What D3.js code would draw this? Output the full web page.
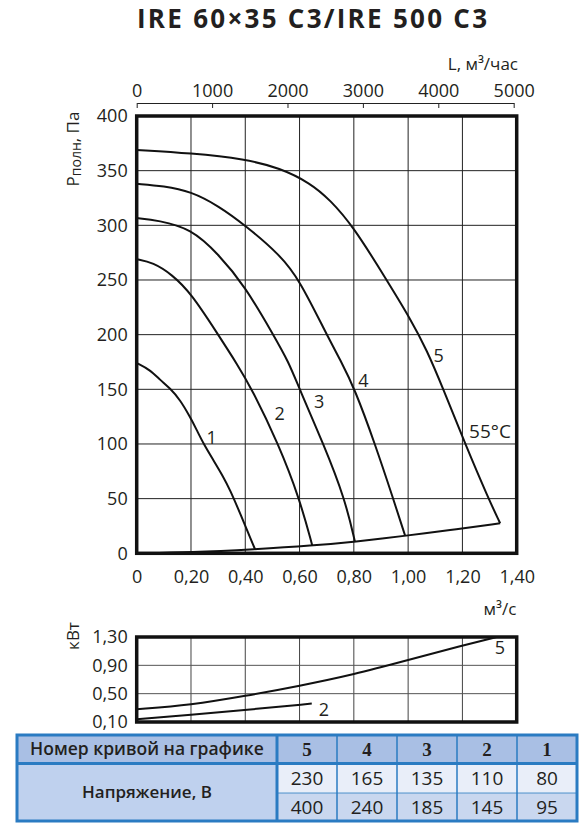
<!DOCTYPE html>
<html>
<head>
<meta charset="utf-8">
<script src="https://cdn.jsdelivr.net/npm/d3@7"></script>
<style>
  body { margin: 0; background: #fff; }
  text { font-family: "Liberation Sans Narrow", "Open Sans", sans-serif; fill: #231f20; }
</style>
</head>
<body>
<svg id="chart"></svg>
<script>
// curves: flow m3/s, pressure Pa
let curve1 = [[0,174],[0.049,167.8],[0.086,158.6],[0.123,151],[0.16,140.3],[0.196,125],[0.221,112.9],[0.245,100.7],[0.282,85.4],[0.319,70],[0.344,58],[0.381,36.6],[0.436,3.7]]
let curve2 = [[0,269],[0.06,266],[0.13,255],[0.2,238],[0.3,200],[0.37,173],[0.425,150],[0.522,100],[0.6,50],[0.647,7]]
let curve3 = [[0,306.6],[0.08,304.5],[0.2,297],[0.3,274],[0.4,244],[0.503,200],[0.56,175],[0.6,150],[0.688,100],[0.767,50],[0.804,10.6]]
let curve4 = [[0,338],[0.1,336],[0.2,331],[0.3,318],[0.4,300],[0.528,273],[0.6,250],[0.7,200],[0.75,177],[0.804,150],[0.878,100],[0.945,50],[0.989,16]]
let curve5 = [[0,369],[0.2,366],[0.4,360.6],[0.528,352.4],[0.639,338.7],[0.712,323.4],[0.798,299],[0.921,250],[1.007,215],[1.069,186],[1.13,150],[1.21,100],[1.296,50],[1.339,27.5]]
let network = [[0,0],[0.2,0.8],[0.436,3.7],[0.647,7],[0.804,10.6],[0.989,16],[1.15,21],[1.339,27.5]]
let curveLabels = [["1",0.276,106],["2",0.527,128],["3",0.672,139],["4",0.835,158],["5",1.112,181]]

// power, kW
let power5 = [[0,0.28],[0.2,0.34],[0.4,0.467],[0.6,0.61],[0.8,0.77],[1.0,0.975],[1.2,1.18],[1.326,1.30]]
let power2 = [[0,0.14],[0.2,0.2],[0.4,0.27],[0.645,0.36]]

let flowTicks = [0,0.2,0.4,0.6,0.8,1.0,1.2,1.4]
let pressTicks = [0,50,100,150,200,250,300,350,400]
let hourTicks = [0,1000,2000,3000,4000,5000]
let powerTicks = [0.1,0.5,0.9,1.3]

let tableHead = ["5","4","3","2","1"]
let volts1 = ["230","165","135","110","80"]
let volts2 = ["400","240","185","145","95"]

let svg = d3.select("#chart").attr("width", 582).attr("height", 830)

let x = d3.scaleLinear().domain([0,1.4]).range([136.7,516.7])
let y = d3.scaleLinear().domain([0,400]).range([553.3,116])
let xh = d3.scaleLinear().domain([0,5000]).range([x(0), x(5000/3600)])
let yp = d3.scaleLinear().domain([0.1,1.3]).range([722,637])

let comma = d => d === 0 ? "0" : d3.format(".2f")(d).replace(".", ",")

// title
svg.append("text").attr("x", 137).attr("y", 28)
    .attr("textLength", 350).attr("lengthAdjust", "spacing")
    .style("font-family", "'Open Sans', sans-serif").style("font-weight", "bold")
    .style("font-size", "26px")
    .text("IRE 60×35 C3/IRE 500 C3")

// grid main
let g = svg.append("g")
g.selectAll(".vg").data(flowTicks.slice(1,-1)).enter().append("line")
    .attr("x1", d => x(d)).attr("x2", d => x(d)).attr("y1", y(400)).attr("y2", y(0))
    .attr("stroke", "#222").attr("stroke-width", 1)
g.selectAll(".hg").data(pressTicks.slice(1,-1)).enter().append("line")
    .attr("x1", x(0)).attr("x2", x(1.4)).attr("y1", d => y(d)).attr("y2", d => y(d))
    .attr("stroke", "#222").attr("stroke-width", 1)

let line = d3.line().x(d => x(d[0])).y(d => y(d[1])).curve(d3.curveBasis)
let curves = [curve1, curve2, curve3, curve4, curve5]
g.selectAll(".curve").data(curves).enter().append("path")
    .attr("d", line).attr("fill", "none").attr("stroke", "#111").attr("stroke-width", 2)
g.append("path").datum(network).attr("d", line)
    .attr("fill", "none").attr("stroke", "#111").attr("stroke-width", 2)

g.selectAll(".clab").data(curveLabels).enter().append("text")
    .attr("x", d => x(d[1])).attr("y", d => y(d[2])).attr("dy", "0.35em")
    .attr("text-anchor", "middle").style("font-size", "18px").text(d => d[0])
g.append("text").attr("x", 490).attr("y", 431).attr("dy", "0.35em").attr("text-anchor", "middle")
    .style("font-size", "19px").text("55°C")

g.append("rect").attr("x", x(0)).attr("y", y(400)).attr("width", x(1.4)-x(0)).attr("height", y(0)-y(400))
    .attr("fill", "none").attr("stroke", "#111").attr("stroke-width", 3.5)

// axes
let xAxis = d3.axisBottom(x).tickValues(flowTicks).tickSize(0).tickPadding(17).tickFormat(comma)
svg.append("g").attr("transform", "translate(0," + y(0) + ")").call(xAxis)
    .call(a => a.select(".domain").remove())
    .selectAll("text").style("font-size", "18px").style("font-family", null)

let yAxis = d3.axisLeft(y).tickValues(pressTicks).tickSize(0).tickPadding(9)
svg.append("g").attr("transform", "translate(" + x(0) + ",0)").call(yAxis)
    .call(a => a.select(".domain").remove())
    .selectAll("text").style("font-size", "18px").style("font-family", null)

let topAxis = d3.axisTop(xh).tickValues(hourTicks).tickFormat(d3.format("d"))
    .tickSizeInner(-5).tickSizeOuter(0).tickPadding(6)
let ta = svg.append("g").attr("transform", "translate(0,103)").call(topAxis)
ta.select(".domain").attr("stroke", "#222")
ta.selectAll(".tick line").attr("stroke", "#222")
ta.selectAll("text").style("font-size", "18px").style("font-family", null)

svg.append("text").attr("x", 518).attr("y", 70).attr("text-anchor", "end")
    .style("font-size", "17px").text("L, м³/час")
svg.append("text").attr("x", 500).attr("y", 615).attr("text-anchor", "middle")
    .style("font-size", "17px").text("м³/с")

let yl = svg.append("text").attr("transform", "translate(79,149) rotate(-90)")
    .attr("text-anchor", "middle").style("font-size", "17px")
yl.append("tspan").text("P")
yl.append("tspan").attr("dy", "2").style("font-size", "14px").text("полн")
yl.append("tspan").attr("dy", "-2").text(", Па")

// power chart
let pg = svg.append("g")
pg.selectAll(".pv").data(flowTicks.slice(1,-1)).enter().append("line")
    .attr("x1", d => x(d)).attr("x2", d => x(d)).attr("y1", yp(1.3)).attr("y2", yp(0.1))
    .attr("stroke", "#444").attr("stroke-width", 1)
pg.selectAll(".ph").data(powerTicks.slice(1,-1)).enter().append("line")
    .attr("x1", x(0)).attr("x2", x(1.4)).attr("y1", d => yp(d)).attr("y2", d => yp(d))
    .attr("stroke", "#555").attr("stroke-width", 1)

let pline = d3.line().x(d => x(d[0])).y(d => yp(d[1])).curve(d3.curveBasis)
pg.selectAll(".pc").data([power5, power2]).enter().append("path")
    .attr("d", pline).attr("fill", "none").attr("stroke", "#111").attr("stroke-width", 2)
pg.append("text").attr("x", 500).attr("y", 648).attr("dy", "0.35em").attr("text-anchor", "middle")
    .style("font-size", "18px").text("5")
pg.append("text").attr("x", 324).attr("y", 710).attr("dy", "0.35em").attr("text-anchor", "middle")
    .style("font-size", "18px").text("2")
pg.append("rect").attr("x", x(0)).attr("y", yp(1.3)).attr("width", x(1.4)-x(0)).attr("height", yp(0.1)-yp(1.3))
    .attr("fill", "none").attr("stroke", "#111").attr("stroke-width", 3.5)

let pAxis = d3.axisLeft(yp).tickValues(powerTicks).tickSize(0).tickPadding(9).tickFormat(comma)
svg.append("g").attr("transform", "translate(" + x(0) + ",0)").call(pAxis)
    .call(a => a.select(".domain").remove())
    .selectAll("text").style("font-size", "18px").style("font-family", null)

svg.append("text").attr("transform", "translate(79,636) rotate(-90)")
    .attr("text-anchor", "middle").style("font-size", "17px").text("кВт")

// table
let tx0 = 17, tx1 = 577, ty0 = 735, ty1 = 763.5, ty2 = 793, ty3 = 821
let col0 = 277
let cols = d3.scaleBand().domain(d3.range(5)).range([col0, tx1])
let tg = svg.append("g")
tg.append("rect").attr("x", tx0).attr("y", ty0).attr("width", tx1-tx0).attr("height", ty1-ty0).attr("fill", "#a9bfe4")
tg.append("rect").attr("x", tx0).attr("y", ty1).attr("width", col0-tx0).attr("height", ty3-ty1).attr("fill", "#bfd1ee")
tg.append("rect").attr("x", col0).attr("y", ty1).attr("width", tx1-col0).attr("height", ty2-ty1).attr("fill", "#e9eef9")
tg.append("rect").attr("x", col0).attr("y", ty2).attr("width", tx1-col0).attr("height", ty3-ty2).attr("fill", "#c9d7ef")

tg.selectAll(".cl").data(d3.range(1,5)).enter().append("line")
    .attr("x1", d => cols(d)).attr("x2", d => cols(d)).attr("y1", ty0).attr("y2", ty3)
    .attr("stroke", "#2a7bc2").attr("stroke-width", 1.5)
tg.append("line").attr("x1", col0).attr("x2", tx1).attr("y1", ty2).attr("y2", ty2)
    .attr("stroke", "#2a7bc2").attr("stroke-width", 0.8)
tg.append("line").attr("x1", tx0).attr("x2", tx1).attr("y1", ty1).attr("y2", ty1)
    .attr("stroke", "#2a7bc2").attr("stroke-width", 3)
tg.append("line").attr("x1", col0).attr("x2", col0).attr("y1", ty0).attr("y2", ty3)
    .attr("stroke", "#2a7bc2").attr("stroke-width", 3)
tg.append("rect").attr("x", tx0).attr("y", ty0).attr("width", tx1-tx0).attr("height", ty3-ty0)
    .attr("fill", "none").attr("stroke", "#2a7bc2").attr("stroke-width", 3)

tg.append("text").attr("x", (tx0+col0)/2).attr("y", (ty0+ty1)/2).attr("dy", "0.35em")
    .attr("text-anchor", "middle").style("font-family", "'Open Sans', sans-serif")
    .style("font-weight", "600").style("font-size", "17.5px").text("Номер кривой на графике")
tg.append("text").attr("x", (tx0+col0)/2).attr("y", (ty1+ty3)/2).attr("dy", "0.35em")
    .attr("text-anchor", "middle").style("font-family", "'Open Sans', sans-serif")
    .style("font-weight", "600").style("font-size", "17px").text("Напряжение, В")

tg.selectAll(".th").data(tableHead).enter().append("text")
    .attr("x", (d, i) => cols(i) + cols.bandwidth()/2).attr("y", (ty0+ty1)/2).attr("dy", "0.35em")
    .attr("text-anchor", "middle").style("font-family", "'Liberation Serif', serif")
    .style("font-weight", "bold").style("font-size", "19px").text(d => d)
tg.selectAll(".r1").data(volts1).enter().append("text")
    .attr("x", (d, i) => cols(i) + cols.bandwidth()/2).attr("y", (ty1+ty2)/2).attr("dy", "0.35em")
    .attr("text-anchor", "middle").style("font-size", "19px").text(d => d)
tg.selectAll(".r2").data(volts2).enter().append("text")
    .attr("x", (d, i) => cols(i) + cols.bandwidth()/2).attr("y", (ty2+ty3)/2).attr("dy", "0.35em")
    .attr("text-anchor", "middle").style("font-size", "19px").text(d => d)
</script>
</body>
</html>
